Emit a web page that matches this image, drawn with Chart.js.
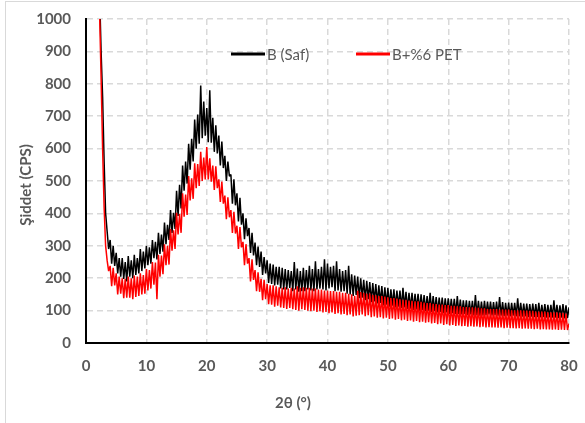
<!DOCTYPE html>
<html>
<head>
<meta charset="utf-8">
<script src="https://cdn.jsdelivr.net/npm/chart.js@4/dist/chart.umd.min.js"></script>
<style>
  html, body { margin: 0; padding: 0; background: #fff; }
  #wrap { position: relative; width: 585px; height: 423px; }
  #frame { position: absolute; left: 5px; top: 1px; right: 0; bottom: 0;
           border-left: 1px solid #d9d9d9; border-top: 1px solid #d9d9d9; }
  canvas { position: absolute; left: 0; top: 0; }
</style>
</head>
<body>
<div id="wrap">
  <div id="frame"></div>
  <canvas id="xrd" width="585" height="423"></canvas>
</div>
<script>
// 2θ runs from 2° to 80° in steps of 0.25°
var startAngle = 2, angleStep = 0.25;

var xTicks = [0, 10, 20, 30, 40, 50, 60, 70, 80];
var yTicks = [0, 100, 200, 300, 400, 500, 600, 700, 800, 900, 1000];

var seriesNames = ['B (Saf)', 'B+%6 PET'];

// B (Saf), counts per second
var bSaf = [
  1400, 1080, 900, 760,   560, 400, 345, 290,   318, 245, 300, 238,   278, 215, 262, 205,
  262, 198, 250, 190,   268, 205, 255, 200,   272, 210, 262, 215,   290, 222, 282, 230,
  300, 240, 295, 245,   318, 262, 312, 258,   340, 275, 335, 282,   372, 305, 365, 318,
  410, 340, 402, 352,   470, 392, 488, 415,   548, 470, 560, 492,   615, 535, 630, 560,
  690, 600, 705, 615,   795, 632, 745, 640,   725, 620, 780, 618,   695, 590, 672, 585,
  640, 548, 622, 540,   578, 500, 560, 515,   520, 430, 505, 425,   462, 375, 448, 365,
  400, 320, 385, 330,   355, 278, 340, 270,   310, 240, 298, 235,   282, 210, 265, 215,
  255, 185, 245, 182,   242, 178, 235, 180,   235, 168, 232, 165,   228, 165, 225, 170,
  222, 160, 250, 165,   230, 158, 222, 160,   232, 160, 225, 165,   238, 162, 228, 160,
  252, 165, 228, 168,   235, 165, 258, 162,   245, 168, 235, 172,   238, 160, 252, 162,
  228, 158, 222, 160,   225, 152, 238, 150,   212, 145, 208, 148,   205, 138, 200, 140,
  195, 132, 192, 135,   188, 126, 185, 128,   182, 122, 178, 124,   176, 116, 172, 118,
  170, 112, 166, 115,   166, 110, 162, 112,   162, 108, 170, 110,   158, 105, 155, 106,
  155, 102, 152, 104,   152, 100, 150, 102,   148, 98, 145, 100,   155, 96, 145, 98,
  142, 94, 140, 96,   140, 92, 138, 94,   138, 90, 136, 92,   136, 90, 145, 90,
  134, 88, 132, 90,   132, 86, 130, 88,   130, 85, 148, 86,   130, 84, 128, 85,
  130, 86, 128, 88,   128, 85, 126, 86,   128, 84, 142, 84,   126, 83, 124, 84,
  125, 82, 124, 84,   124, 82, 138, 82,   124, 81, 122, 82,   122, 80, 120, 81,
  122, 80, 120, 80,   124, 79, 118, 80,   120, 78, 118, 79,   118, 78, 132, 78,
  118, 77, 116, 78,   120, 76, 116, 77,   110
];

// B+%6 PET, counts per second
var bPet = [
  1400, 1020, 820, 600,   420, 300, 255, 222,   238, 175, 232, 178,   215, 150, 205, 152,
  200, 138, 198, 140,   205, 140, 200, 135,   208, 142, 205, 145,   215, 150, 210, 152,
  228, 162, 225, 168,   250, 180, 248, 135,   272, 205, 270, 212,   305, 240, 300, 242,
  352, 285, 348, 290,   402, 335, 398, 340,   462, 390, 458, 395,   515, 440, 508, 445,
  555, 478, 552, 485,   590, 500, 572, 505,   605, 505, 570, 498,   548, 472, 545, 478,
  505, 435, 498, 430,   455, 382, 450, 388,   410, 340, 405, 338,   362, 290, 358, 295,
  312, 240, 305, 245,   262, 190, 258, 195,   225, 160, 218, 158,   198, 132, 195, 135,
  182, 120, 178, 118,   178, 112, 175, 115,   172, 110, 170, 108,   172, 105, 168, 108,
  170, 104, 168, 102,   175, 100, 170, 104,   172, 102, 170, 100,   170, 98, 168, 100,
  168, 96, 165, 98,   165, 94, 162, 96,   162, 92, 160, 94,   160, 90, 158, 92,
  158, 88, 155, 90,   155, 86, 152, 88,   150, 82, 146, 84,   161, 86, 157, 88,
  155, 83, 153, 86,   153, 80, 149, 82,   147, 78, 145, 80,   145, 76, 143, 78,
  141, 74, 139, 76,   139, 72, 137, 74,   135, 70, 133, 72,   133, 68, 131, 70,
  130, 66, 129, 68,   129, 64, 127, 66,   125, 63, 123, 64,   123, 60, 121, 62,
  120, 58, 119, 60,   119, 56, 117, 58,   117, 54, 115, 56,   115, 53, 113, 54,
  113, 52, 111, 53,   111, 50, 110, 52,   110, 50, 109, 51,   109, 49, 107, 50,
  107, 48, 105, 49,   105, 48, 105, 48,   105, 47, 103, 48,   103, 46, 103, 47,
  103, 46, 101, 46,   101, 45, 101, 46,   101, 44, 100, 45,   100, 44, 99, 44,
  99, 43, 97, 44,   97, 42, 97, 43,   97, 42, 95, 42,   95, 41, 95, 42,
  95, 40, 93, 41,   93, 40, 91, 40,   60
];

var angles = bSaf.map(function (v, i) { return startAngle + i * angleStep; });

function toPoints(values) {
    return values.map(function (v, i) { return { x: angles[i], y: v }; });
}

var tickFont = { family: 'Lato', size: 15, weight: 'bold' };
var grey = '#595959';

// legend and axis titles placed like the Excel original
var extras = {
    id: 'extras',
    afterDraw: function (chart) {
        var ctx = chart.ctx;
        ctx.save();
        var items = [
            { x: 231, color: '#000000', text: seriesNames[0] },
            { x: 356, color: '#ff0000', text: seriesNames[1] }
        ];
        ctx.font = '15px Lato';
        ctx.textBaseline = 'middle';
        items.forEach(function (it) {
            ctx.strokeStyle = it.color;
            ctx.lineWidth = 3;
            ctx.beginPath();
            ctx.moveTo(it.x, 54);
            ctx.lineTo(it.x + 34, 54);
            ctx.stroke();
            ctx.fillStyle = grey;
            ctx.textAlign = 'left';
            ctx.fillText(it.text, it.x + 36, 55);
        });
        ctx.font = 'bold 15px Lato';
        ctx.fillStyle = grey;
        ctx.textAlign = 'center';
        ctx.fillText('2θ (°)', 293, 403);
        ctx.translate(26, 185);
        ctx.rotate(-Math.PI / 2);
        ctx.fillText('Şiddet (CPS)', 0, 0);
        ctx.restore();
    }
};

var ctx = document.getElementById('xrd').getContext('2d');
var xrdChart = new Chart(ctx, {
    type: 'line',
    data: {
        datasets: [{
            label: seriesNames[0],
            data: toPoints(bSaf),
            borderColor: '#000000',
            borderWidth: 1.5,
            borderJoinStyle: 'bevel',
            pointRadius: 0,
            order: 1
        }, {
            label: seriesNames[1],
            data: toPoints(bPet),
            borderColor: '#ff0000',
            borderWidth: 1.5,
            borderJoinStyle: 'bevel',
            pointRadius: 0,
            order: 0
        }]
    },
    options: {
        responsive: false,
        animation: false,
        layout: { padding: { left: 0, top: 19, right: 16, bottom: 0 } },
        plugins: { legend: { display: false }, tooltip: { enabled: false } },
        scales: {
            x: {
                type: 'linear',
                min: 0, max: 80,
                afterBuildTicks: function (s) { s.ticks = xTicks.map(function (v) { return { value: v }; }); },
                afterFit: function (s) { s.height = 80; s.paddingLeft = 0; s.paddingRight = 0; },
                grid: { color: '#d9d9d9', lineWidth: 1.5, drawTicks: false },
                border: { display: true, color: '#000000', width: 2, dash: [6, 4] },
                ticks: { font: tickFont, color: grey, padding: 14, maxRotation: 0,
                         callback: function (v) { return String(v); } }
            },
            y: {
                min: 0, max: 1000,
                afterBuildTicks: function (s) { s.ticks = yTicks.map(function (v) { return { value: v }; }); },
                afterFit: function (s) { s.width = 86; s.paddingTop = 0; s.paddingBottom = 0; },
                grid: { color: '#d9d9d9', lineWidth: 1.5, drawTicks: false },
                border: { display: true, color: '#000000', width: 2, dash: [6, 4] },
                ticks: { font: tickFont, color: grey, padding: 15,
                         callback: function (v) { return String(v); } }
            }
        }
    },
    plugins: [extras]
});
</script>
</body>
</html>
